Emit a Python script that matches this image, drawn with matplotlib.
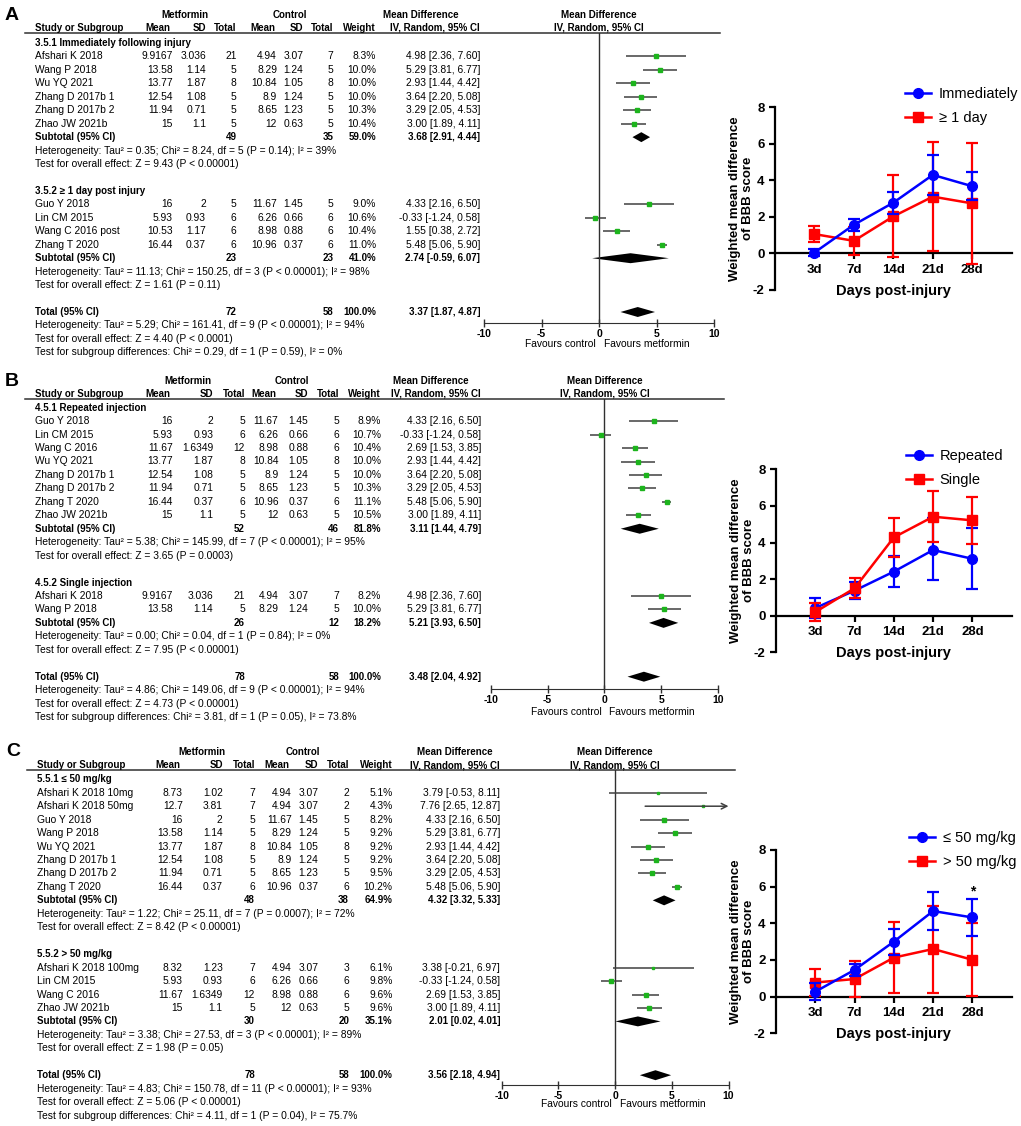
import matplotlib
matplotlib.use("Agg")
import matplotlib.pyplot as plt
from matplotlib.lines import Line2D

plt.rcParams['font.family'] = ['Liberation Sans', 'DejaVu Sans']
plt.rcParams['axes.unicode_minus'] = False

W, H = 1021, 1126
STEP = 13.45
FS = 7.35      # regular table text
FSB = 7.0      # bold table text
GREEN = '#1db41d'
CI_COL = '#404040'

# ---------------- forest plot data ----------------
# (study, met mean, met SD, met n, ctl mean, ctl SD, ctl n, weight %, MD, lower, upper)
a1_rows = [
    ("Afshari K 2018", 9.9167, 3.036, 21, 4.94, 3.07, 7, 8.3, 4.98, 2.36, 7.60),
    ("Wang P 2018", 13.58, 1.14, 5, 8.29, 1.24, 5, 10.0, 5.29, 3.81, 6.77),
    ("Wu YQ 2021", 13.77, 1.87, 8, 10.84, 1.05, 8, 10.0, 2.93, 1.44, 4.42),
    ("Zhang D 2017b 1", 12.54, 1.08, 5, 8.9, 1.24, 5, 10.0, 3.64, 2.20, 5.08),
    ("Zhang D 2017b 2", 11.94, 0.71, 5, 8.65, 1.23, 5, 10.3, 3.29, 2.05, 4.53),
    ("Zhao JW 2021b", 15, 1.1, 5, 12, 0.63, 5, 10.4, 3.00, 1.89, 4.11),
]
a1_sub = (49, 35, 59.0, 3.68, 2.91, 4.44)
a1_text = ["Heterogeneity: Tau\u00b2 = 0.35; Chi\u00b2 = 8.24, df = 5 (P = 0.14); I\u00b2 = 39%",
           "Test for overall effect: Z = 9.43 (P < 0.00001)"]
a2_rows = [
    ("Guo Y 2018", 16, 2, 5, 11.67, 1.45, 5, 9.0, 4.33, 2.16, 6.50),
    ("Lin CM 2015", 5.93, 0.93, 6, 6.26, 0.66, 6, 10.6, -0.33, -1.24, 0.58),
    ("Wang C 2016 post", 10.53, 1.17, 6, 8.98, 0.88, 6, 10.4, 1.55, 0.38, 2.72),
    ("Zhang T 2020", 16.44, 0.37, 6, 10.96, 0.37, 6, 11.0, 5.48, 5.06, 5.90),
]
a2_sub = (23, 23, 41.0, 2.74, -0.59, 6.07)
a2_text = ["Heterogeneity: Tau\u00b2 = 11.13; Chi\u00b2 = 150.25, df = 3 (P < 0.00001); I\u00b2 = 98%",
           "Test for overall effect: Z = 1.61 (P = 0.11)"]
a_total = (72, 58, 100.0, 3.37, 1.87, 4.87)
a_text = ["Heterogeneity: Tau\u00b2 = 5.29; Chi\u00b2 = 161.41, df = 9 (P < 0.00001); I\u00b2 = 94%",
          "Test for overall effect: Z = 4.40 (P < 0.0001)",
          "Test for subgroup differences: Chi\u00b2 = 0.29, df = 1 (P = 0.59), I\u00b2 = 0%"]

b1_rows = [
    ("Guo Y 2018", 16, 2, 5, 11.67, 1.45, 5, 8.9, 4.33, 2.16, 6.50),
    ("Lin CM 2015", 5.93, 0.93, 6, 6.26, 0.66, 6, 10.7, -0.33, -1.24, 0.58),
    ("Wang C 2016", 11.67, 1.6349, 12, 8.98, 0.88, 6, 10.4, 2.69, 1.53, 3.85),
    ("Wu YQ 2021", 13.77, 1.87, 8, 10.84, 1.05, 8, 10.0, 2.93, 1.44, 4.42),
    ("Zhang D 2017b 1", 12.54, 1.08, 5, 8.9, 1.24, 5, 10.0, 3.64, 2.20, 5.08),
    ("Zhang D 2017b 2", 11.94, 0.71, 5, 8.65, 1.23, 5, 10.3, 3.29, 2.05, 4.53),
    ("Zhang T 2020", 16.44, 0.37, 6, 10.96, 0.37, 6, 11.1, 5.48, 5.06, 5.90),
    ("Zhao JW 2021b", 15, 1.1, 5, 12, 0.63, 5, 10.5, 3.00, 1.89, 4.11),
]
b1_sub = (52, 46, 81.8, 3.11, 1.44, 4.79)
b1_text = ["Heterogeneity: Tau\u00b2 = 5.38; Chi\u00b2 = 145.99, df = 7 (P < 0.00001); I\u00b2 = 95%",
           "Test for overall effect: Z = 3.65 (P = 0.0003)"]
b2_rows = [
    ("Afshari K 2018", 9.9167, 3.036, 21, 4.94, 3.07, 7, 8.2, 4.98, 2.36, 7.60),
    ("Wang P 2018", 13.58, 1.14, 5, 8.29, 1.24, 5, 10.0, 5.29, 3.81, 6.77),
]
b2_sub = (26, 12, 18.2, 5.21, 3.93, 6.50)
b2_text = ["Heterogeneity: Tau\u00b2 = 0.00; Chi\u00b2 = 0.04, df = 1 (P = 0.84); I\u00b2 = 0%",
           "Test for overall effect: Z = 7.95 (P < 0.00001)"]
b_total = (78, 58, 100.0, 3.48, 2.04, 4.92)
b_text = ["Heterogeneity: Tau\u00b2 = 4.86; Chi\u00b2 = 149.06, df = 9 (P < 0.00001); I\u00b2 = 94%",
          "Test for overall effect: Z = 4.73 (P < 0.00001)",
          "Test for subgroup differences: Chi\u00b2 = 3.81, df = 1 (P = 0.05), I\u00b2 = 73.8%"]

c1_rows = [
    ("Afshari K 2018 10mg", 8.73, 1.02, 7, 4.94, 3.07, 2, 5.1, 3.79, -0.53, 8.11),
    ("Afshari K 2018 50mg", 12.7, 3.81, 7, 4.94, 3.07, 2, 4.3, 7.76, 2.65, 12.87),
    ("Guo Y 2018", 16, 2, 5, 11.67, 1.45, 5, 8.2, 4.33, 2.16, 6.50),
    ("Wang P 2018", 13.58, 1.14, 5, 8.29, 1.24, 5, 9.2, 5.29, 3.81, 6.77),
    ("Wu YQ 2021", 13.77, 1.87, 8, 10.84, 1.05, 8, 9.2, 2.93, 1.44, 4.42),
    ("Zhang D 2017b 1", 12.54, 1.08, 5, 8.9, 1.24, 5, 9.2, 3.64, 2.20, 5.08),
    ("Zhang D 2017b 2", 11.94, 0.71, 5, 8.65, 1.23, 5, 9.5, 3.29, 2.05, 4.53),
    ("Zhang T 2020", 16.44, 0.37, 6, 10.96, 0.37, 6, 10.2, 5.48, 5.06, 5.90),
]
c1_sub = (48, 38, 64.9, 4.32, 3.32, 5.33)
c1_text = ["Heterogeneity: Tau\u00b2 = 1.22; Chi\u00b2 = 25.11, df = 7 (P = 0.0007); I\u00b2 = 72%",
           "Test for overall effect: Z = 8.42 (P < 0.00001)"]
c2_rows = [
    ("Afshari K 2018 100mg", 8.32, 1.23, 7, 4.94, 3.07, 3, 6.1, 3.38, -0.21, 6.97),
    ("Lin CM 2015", 5.93, 0.93, 6, 6.26, 0.66, 6, 9.8, -0.33, -1.24, 0.58),
    ("Wang C 2016", 11.67, 1.6349, 12, 8.98, 0.88, 6, 9.6, 2.69, 1.53, 3.85),
    ("Zhao JW 2021b", 15, 1.1, 5, 12, 0.63, 5, 9.6, 3.00, 1.89, 4.11),
]
c2_sub = (30, 20, 35.1, 2.01, 0.02, 4.01)
c2_text = ["Heterogeneity: Tau\u00b2 = 3.38; Chi\u00b2 = 27.53, df = 3 (P < 0.00001); I\u00b2 = 89%",
           "Test for overall effect: Z = 1.98 (P = 0.05)"]
c_total = (78, 58, 100.0, 3.56, 2.18, 4.94)
c_text = ["Heterogeneity: Tau\u00b2 = 4.83; Chi\u00b2 = 150.78, df = 11 (P < 0.00001); I\u00b2 = 93%",
          "Test for overall effect: Z = 5.06 (P < 0.00001)",
          "Test for subgroup differences: Chi\u00b2 = 4.11, df = 1 (P = 0.04), I\u00b2 = 75.7%"]

# ---------------- line chart data ----------------
days = ['3d', '7d', '14d', '21d', '28d']
a_imm = [0.05, 1.57, 2.78, 4.30, 3.68]
a_imm_lo = [-0.12, 1.25, 2.17, 3.20, 2.91]
a_imm_hi = [0.22, 1.90, 3.39, 5.39, 4.44]
a_late = [1.06, 0.69, 2.03, 3.11, 2.74]
a_late_lo = [0.62, -0.07, -0.20, 0.11, -0.59]
a_late_hi = [1.48, 1.45, 4.28, 6.12, 6.07]

b_rep = [0.42, 1.37, 2.41, 3.59, 3.11]
b_rep_lo = [-0.15, 0.91, 1.59, 1.95, 1.44]
b_rep_hi = [0.95, 1.86, 3.26, 5.32, 4.79]
b_sing = [0.20, 1.50, 4.28, 5.41, 5.21]
b_sing_lo = [-0.27, 0.98, 3.19, 4.04, 3.93]
b_sing_hi = [0.68, 2.04, 5.36, 6.81, 6.50]

c_low = [0.27, 1.46, 3.00, 4.67, 4.32]
c_low_lo = [-0.20, 1.13, 2.27, 3.64, 3.32]
c_low_hi = [0.73, 1.80, 3.67, 5.71, 5.33]
c_high = [0.77, 0.96, 2.13, 2.60, 2.01]
c_high_lo = [0.01, -0.03, 0.18, 0.22, 0.02]
c_high_hi = [1.53, 1.95, 4.09, 4.95, 4.01]

fig = plt.figure(figsize=(W / 100, H / 100), dpi=100)
bg = fig.add_axes([0, 0, 1, 1])
bg.set_xlim(0, W)
bg.set_ylim(H, 0)
bg.axis('off')


def add_axes_px(x0, y0, x1, y1):
    return fig.add_axes([x0 / W, 1 - y1 / H, (x1 - x0) / W, (y1 - y0) / H])


def ci_str(md, lo, hi):
    return '%.2f [%.2f, %.2f]' % (md, lo, hi)


def draw_panel(lay, groups, total, foot):
    cols = lay['cols']
    r0 = lay['row0']
    fx0, fx1 = lay['fx']
    zero = (fx0 + fx1) / 2

    def ry(i):
        return r0 + STEP * i

    def txt(x, y, s, ha='right', bold=False):
        bg.text(x, y, s, ha=ha, va='center', fontsize=FSB if bold else FS,
                fontweight='bold' if bold else 'normal')

    bg.text(lay['letter_x'], lay['h1'], lay['letter'], fontsize=14, fontweight='bold', va='center')
    # header rows
    for x, s in zip(lay['grp'], ['Metformin', 'Control', 'Mean Difference']):
        txt(x, lay['h1'], s, ha='center', bold=True)
    txt(zero, lay['h1'], 'Mean Difference', ha='center', bold=True)
    heads = ['Study or Subgroup', 'Mean', 'SD', 'Total', 'Mean', 'SD', 'Total', 'Weight',
             'IV, Random, 95% CI']
    for k, s in enumerate(heads):
        txt(cols[k] if k != 1 and k != 4 else cols[k] - 2, lay['h2'], s,
            ha='left' if k == 0 else 'right', bold=True)
    txt(zero, lay['h2'], 'IV, Random, 95% CI', ha='center', bold=True)
    bg.plot([cols[0] - 10, fx1 + 6], [lay['line'], lay['line']], color='#303030', lw=1.1)

    ax = add_axes_px(fx0, lay['line'], fx1, lay['axis'])
    ax.set_xlim(-10, 10)
    ax.set_ylim((lay['axis'] - r0) / STEP, (lay['line'] - r0) / STEP)
    ax.patch.set_alpha(0)
    for s in ['top', 'left', 'right']:
        ax.spines[s].set_visible(False)
    ax.spines['bottom'].set_color('#303030')
    ax.axvline(0, color='#303030', lw=1.0)
    ax.set_yticks([])
    ax.set_xticks([-10, -5, 0, 5, 10])
    ax.set_xticklabels(['-10', '-5', '0', '5', '10'], fontsize=7.5, fontweight='bold')
    ax.tick_params(axis='x', direction='inout', length=6, width=1, pad=1, color='#303030')
    txt(zero - 3, lay['fav'], 'Favours control', ha='right')
    txt(zero + 5, lay['fav'], 'Favours metformin', ha='left')

    def diamond(i, md, lo, hi):
        ax.fill([lo, md, hi, md], [i, i - 0.37, i, i + 0.37], color='black', lw=0)

    def summary(i, label, n1, n2, w, md, lo, hi):
        txt(cols[0], ry(i), label, ha='left', bold=True)
        txt(cols[3], ry(i), '%d' % n1, bold=True)
        txt(cols[6], ry(i), '%d' % n2, bold=True)
        txt(cols[7], ry(i), '%.1f%%' % w, bold=True)
        txt(cols[8], ry(i), ci_str(md, lo, hi), bold=True)
        diamond(i, md, lo, hi)

    i = 0
    for title, rows, sub, lines in groups:
        txt(cols[0], ry(i), title, ha='left', bold=True)
        i += 1
        for name, mm, ms, mn, cm, cs, cn, w, md, lo, hi in rows:
            vals = [name, '%g' % mm, '%g' % ms, '%d' % mn, '%g' % cm, '%g' % cs, '%d' % cn,
                    '%.1f%%' % w, ci_str(md, lo, hi)]
            for k, v in enumerate(vals):
                txt(cols[k], ry(i), v, ha='left' if k == 0 else 'right')
            if hi > 10:
                ax.annotate('', xy=(10, i), xytext=(lo, i),
                            arrowprops=dict(arrowstyle='->', color=CI_COL, lw=1.1,
                                            shrinkA=0, shrinkB=0))
            else:
                ax.plot([lo, hi], [i, i], color=CI_COL, lw=1.1, solid_capstyle='butt')
            ax.plot(md, i, 's', color=GREEN, mec=GREEN, ms=max(1.5, 0.45 * w - 1.4))
            i += 1
        summary(i, 'Subtotal (95% CI)', *sub)
        i += 1
        for s in lines:
            txt(cols[0], ry(i), s, ha='left')
            i += 1
        i += 1
    summary(i, 'Total (95% CI)', *total)
    i += 1
    for s in foot:
        txt(cols[0], ry(i), s, ha='left')
        i += 1


lay_a = dict(letter='A', letter_x=5, h1=15, h2=28, line=33, row0=43, axis=323, fav=344,
             cols=[35, 172.7, 206, 236.7, 277, 303.3, 333.3, 376, 480],
             grp=[185, 290, 421], fx=(484, 714))
lay_b = dict(letter='B', letter_x=5, h1=381, h2=394, line=399, row0=407.7, axis=689, fav=712,
             cols=[35, 172.7, 213.3, 245, 278.5, 308.3, 339.3, 381, 481],
             grp=[187.7, 292, 431], fx=(490.7, 718))
lay_c = dict(letter='C', letter_x=6, h1=752, h2=765, line=770, row0=779.3, axis=1085, fav=1104,
             cols=[36.7, 182.7, 222.7, 255, 291.7, 318.3, 349, 392.7, 500],
             grp=[201.7, 303.3, 455], fx=(501.7, 728.5))

draw_panel(lay_a, [("3.5.1 Immediately following injury", a1_rows, a1_sub, a1_text),
                   ("3.5.2 \u2265 1 day post injury", a2_rows, a2_sub, a2_text)],
           a_total, a_text)
draw_panel(lay_b, [("4.5.1 Repeated injection", b1_rows, b1_sub, b1_text),
                   ("4.5.2 Single injection", b2_rows, b2_sub, b2_text)],
           b_total, b_text)
draw_panel(lay_c, [("5.5.1 \u2264 50 mg/kg", c1_rows, c1_sub, c1_text),
                   ("5.5.2 > 50 mg/kg", c2_rows, c2_sub, c2_text)],
           c_total, c_text)


def draw_chart(box, series, leg_xy, star=None):
    ax = add_axes_px(*box)
    x = list(range(1, len(days) + 1))
    handles = []
    for lab, col, mk, m, lo, hi, z in series:
        yerr = [[a - b for a, b in zip(m, lo)], [b - a for a, b in zip(m, hi)]]
        ax.errorbar(x, m, yerr=yerr, color=col, marker=mk, ms=7, lw=1.8,
                    elinewidth=1.6, capsize=4, capthick=1.6, zorder=z)
        handles.append(Line2D([], [], color=col, marker=mk, ms=7, lw=1.8, label=lab))
    ax.set_xlim(0, 6)
    ax.set_ylim(-2, 8)
    ax.set_yticks([-2, 0, 2, 4, 6, 8])
    ax.set_xticks(x)
    ax.set_xticklabels(days)
    ax.spines['bottom'].set_position(('data', 0))
    ax.spines['top'].set_visible(False)
    ax.spines['right'].set_visible(False)
    for s in ['bottom', 'left']:
        ax.spines[s].set_linewidth(1.6)
    ax.patch.set_alpha(0)
    ax.tick_params(width=1.6, length=4, labelsize=9.5)
    for t in ax.get_xticklabels() + ax.get_yticklabels():
        t.set_fontweight('bold')
    ax.set_xlabel('Days post-injury', fontsize=10.5, fontweight='bold')
    ax.xaxis.set_label_coords(0.5, 0.035)
    ax.set_ylabel('Weighted mean difference\nof BBB score', fontsize=9.5, fontweight='bold',
                  linespacing=1.05)
    ax.yaxis.set_label_coords(-0.09, 0.5)
    if star is not None:
        ax.text(5, star, '*', ha='center', va='center', fontsize=10, fontweight='bold')
    ax.legend(handles=handles, loc='upper left', bbox_to_anchor=(leg_xy[0] / W, 1 - leg_xy[1] / H),
              bbox_transform=fig.transFigure, frameon=False, fontsize=10.5, handlelength=1.8,
              handletextpad=0.5, labelspacing=0.7, borderpad=0, borderaxespad=0)


draw_chart((775, 107.3, 1011.7, 290),
           [("Immediately", 'blue', 'o', a_imm, a_imm_lo, a_imm_hi, 4),
            ("\u2265 1 day", 'red', 's', a_late, a_late_lo, a_late_hi, 3)],
           (905, 87))
draw_chart((776, 469.3, 1011.7, 652.3),
           [("Repeated", 'blue', 'o', b_rep, b_rep_lo, b_rep_hi, 3),
            ("Single", 'red', 's', b_sing, b_sing_lo, b_sing_hi, 4)],
           (906, 449))
draw_chart((776, 850, 1011.7, 1033.3),
           [("\u2264 50 mg/kg", 'blue', 'o', c_low, c_low_lo, c_low_hi, 4),
            ("> 50 mg/kg", 'red', 's', c_high, c_high_lo, c_high_hi, 3)],
           (909, 831), star=c_low_hi[4] + 0.4)

fig.savefig('out.png', dpi=100)
